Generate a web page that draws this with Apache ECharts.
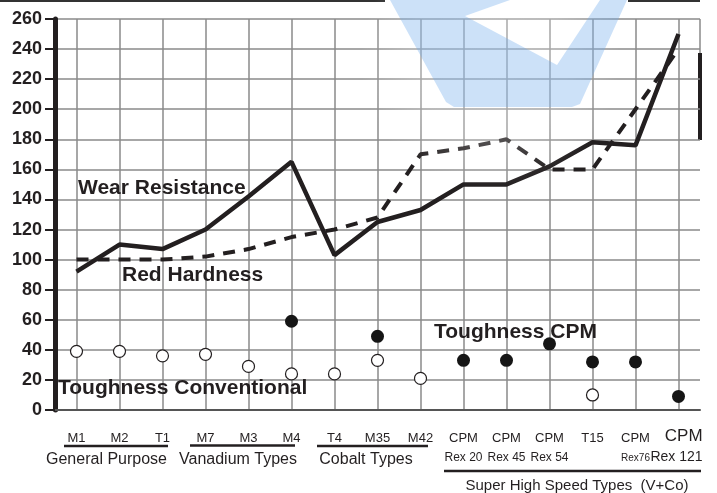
<!DOCTYPE html>
<html><head><meta charset="utf-8">
<script src="https://cdn.jsdelivr.net/npm/echarts@6/dist/echarts.min.js"></script>
<style>html,body{margin:0;padding:0;background:#fff}#c{width:717px;height:493px}</style>
</head><body><div id="c"></div>
<script>
const categories = ['M1','M2','T1','M7','M3','M4','T4','M35','M42','CPM\nRex 20','CPM\nRex 45','CPM\nRex 54','T15','CPM\nRex76','CPM\nRex 121'];
const wearResistance = [92,110,107,120,142,165,103,125,133,150,150,162,178,176,250];
const redHardness = [100,100,100,102,107,115,120,128,170,174,180,160,160,200,240];
const toughnessConventional = [39,39,36,37,29,24,24,33,21,null,null,null,10,null,null];
const toughnessCPM = [null,null,null,null,null,59,null,49,null,33,33,44,32,32,9];
const yMin = 0, yMax = 260, yStep = 20;
const groupLabels = ['General Purpose','Vanadium Types','Cobalt Types','Super High Speed Types  (V+Co)'];
const seriesLabels = ['Wear Resistance','Red Hardness','Toughness CPM','Toughness Conventional'];

const FONT = '"Liberation Sans", Arial, sans-serif';
const INK = '#231f20';
const GRID = '#8a8a8a';

const chart = echarts.init(document.getElementById('c'));
chart.setOption({
  animation: false,
  backgroundColor: '#fff',
  grid: {left: 55, right: 17, top: 19, bottom: 83, containLabel: false, outerBoundsMode: 'none'},
  xAxis: {
    type: 'category', data: categories, boundaryGap: true,
    axisLine: {lineStyle: {color: '#555', width: 2}},
    axisTick: {alignWithLabel: true, length: 9, lineStyle: {color: INK, width: 2}},
    splitLine: {show: true, alignWithLabel: true, lineStyle: {color: GRID, width: 1.5}},
    axisLabel: {
      interval: 0, margin: 18, color: INK, fontFamily: FONT,
      formatter: function (v, i) {
        const p = v.split('\n');
        if (i === 14) return '{big|' + p[0] + '}\n{big2|' + p[1] + '}';
        if (p.length === 1) return '{a|' + v + '}';
        if (p[1] === 'Rex76') return '{a|' + p[0] + '}\n{c|' + p[1] + '}';
        return '{a|' + p[0] + '}\n{b|' + p[1] + '}';
      },
      rich: {
        a: {fontSize: 13, lineHeight: 20, color: INK, fontFamily: FONT},
        b: {fontSize: 12, lineHeight: 20, color: INK, fontFamily: FONT},
        c: {fontSize: 10, lineHeight: 20, color: INK, fontFamily: FONT},
        big: {fontSize: 17, lineHeight: 16, color: INK, fontFamily: FONT, align: 'right', padding: [0, 4, 0, 0]},
        big2: {fontSize: 14, lineHeight: 26, color: INK, fontFamily: FONT, align: 'right', padding: [0, 4, 0, 0]}
      }
    }
  },
  yAxis: {
    type: 'value', min: yMin, max: yMax, interval: yStep,
    axisLine: {show: true, lineStyle: {color: INK, width: 5}},
    axisTick: {show: true, length: 10, lineStyle: {color: INK, width: 2}},
    splitLine: {show: true, lineStyle: {color: GRID, width: 1.5}},
    axisLabel: {margin: 13, color: INK, fontFamily: FONT, fontWeight: 'bold', fontSize: 18}
  },
  series: [
    {name: seriesLabels[0], type: 'line', data: wearResistance, symbol: 'none',
     lineStyle: {color: INK, width: 4.5}, z: 4},
    {name: seriesLabels[1], type: 'line', data: redHardness, symbol: 'none',
     lineStyle: {color: INK, width: 4, type: [12, 9]}, z: 3},
    {name: seriesLabels[3], type: 'scatter', data: toughnessConventional, symbol: 'circle', symbolSize: 12,
     itemStyle: {color: '#fff', borderColor: INK, borderWidth: 1.2, opacity: 1}, z: 5},
    {name: seriesLabels[2], type: 'scatter', data: toughnessCPM, symbol: 'circle', symbolSize: 13,
     itemStyle: {color: '#151515', opacity: 1}, z: 5}
  ],
  graphic: [
    {type: 'line', shape: {x1: 0, y1: 1, x2: 385, y2: 1}, style: {stroke: '#333', lineWidth: 2}},
    {type: 'line', shape: {x1: 628, y1: 1, x2: 700, y2: 1}, style: {stroke: '#333', lineWidth: 2}},
    {type: 'line', shape: {x1: 700, y1: 19, x2: 700, y2: 53}, style: {stroke: GRID, lineWidth: 1.5}},
    {type: 'line', shape: {x1: 700, y1: 53, x2: 700, y2: 140}, style: {stroke: INK, lineWidth: 4}},
    {type: 'text', x: 78, y: 188, style: {text: seriesLabels[0], font: 'bold 21px ' + FONT, fill: INK, verticalAlign: 'middle'}, z: 10},
    {type: 'text', x: 122, y: 275, style: {text: seriesLabels[1], font: 'bold 21px ' + FONT, fill: INK, verticalAlign: 'middle'}, z: 10},
    {type: 'text', x: 434, y: 332, style: {text: seriesLabels[2], font: 'bold 21px ' + FONT, fill: INK, verticalAlign: 'middle'}, z: 10},
    {type: 'text', x: 58, y: 388, style: {text: seriesLabels[3], font: 'bold 21px ' + FONT, fill: INK, verticalAlign: 'middle'}, z: 10},
    {type: 'line', shape: {x1: 64, y1: 446, x2: 168, y2: 446}, style: {stroke: INK, lineWidth: 2.5}},
    {type: 'line', shape: {x1: 190, y1: 445.5, x2: 295, y2: 445.5}, style: {stroke: INK, lineWidth: 2.5}},
    {type: 'line', shape: {x1: 317, y1: 446, x2: 428, y2: 446}, style: {stroke: INK, lineWidth: 2.5}},
    {type: 'line', shape: {x1: 444, y1: 471, x2: 701, y2: 471}, style: {stroke: INK, lineWidth: 2.5}},
    {type: 'text', x: 106.5, y: 460, style: {text: groupLabels[0], font: '16px ' + FONT, fill: INK, align: 'center', verticalAlign: 'middle'}},
    {type: 'text', x: 238, y: 460, style: {text: groupLabels[1], font: '16px ' + FONT, fill: INK, align: 'center', verticalAlign: 'middle'}},
    {type: 'text', x: 366, y: 460, style: {text: groupLabels[2], font: '16px ' + FONT, fill: INK, align: 'center', verticalAlign: 'middle'}},
    {type: 'text', x: 577, y: 486, style: {text: groupLabels[3], font: '15px ' + FONT, fill: INK, align: 'center', verticalAlign: 'middle'}},
    /* faint watermark: white glow + light blue logo */
    {type: 'ellipse', z: 100, silent: true, shape: {cx: 490, cy: 60, rx: 180, ry: 130},
     style: {fill: {type: 'radial', x: 0.5, y: 0.5, r: 0.5, colorStops: [
       {offset: 0, color: 'rgba(255,255,255,0.3)'}, {offset: 0.6, color: 'rgba(255,255,255,0.22)'}, {offset: 1, color: 'rgba(255,255,255,0)'}]}}},
    {type: 'polygon', z: 101, silent: true,
     shape: {points: [[390, 0], [510, 0], [465, 16], [557, 65], [600, 0], [627, 0], [580, 104], [572, 107], [454, 107], [446, 102]]},
     style: {fill: 'rgba(110,170,235,0.35)'}}
  ]
});
</script></body></html>
